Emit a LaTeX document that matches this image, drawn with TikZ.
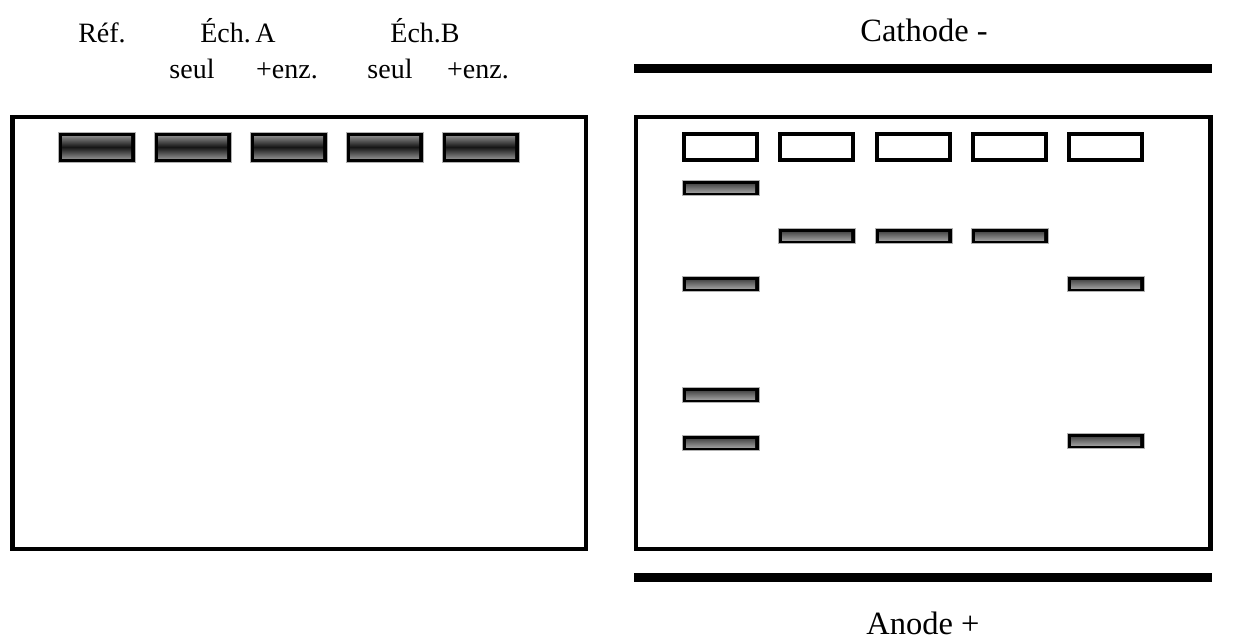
\documentclass[tikz,border=0pt]{standalone}
\usepackage{fontspec}
\setmainfont{Liberation Serif}
\begin{document}
\begin{tikzpicture}[x=1pt,y=-1pt,
  panel/.style={draw=black,line width=4.5pt},
  wellbox/.style={draw=black,line width=4pt,fill=white},
  electrode/.style={fill=black},
  lbl/.style={anchor=base,inner sep=0pt,font=\fontsize{28}{32}\selectfont},
  big/.style={anchor=base,inner sep=0pt,font=\fontsize{32.5}{38}\selectfont},
  thickin/.style={top color=gray!95!white,bottom color=gray!95!white,middle color=black!92},
  thinin/.style={top color=black!70,bottom color=black!40},
]
\useasboundingbox (0,0) rectangle (1255,641);
\newcommand{\thickband}[2]{%
  \fill[black] (#1,#2) rectangle ++(77,30);
  \draw[gray!60,line width=0.6pt] (#1,#2) rectangle ++(77,30);
  \shade[thickin] (#1+4,#2+4) rectangle ++(69,22);
}
\newcommand{\thinband}[2]{%
  \fill[black] (#1,#2) rectangle ++(77,15);
  \draw[gray!60,line width=0.6pt] (#1,#2) rectangle ++(77,15);
  \shade[thinin] (#1+4,#2+4) rectangle ++(69,8);
}
\newcommand{\wellrect}[2]{%
  \draw[wellbox] (#1+2,#2+2) rectangle ++(73,26);
}
% panels
\draw[panel] (12.5,117) rectangle (586,549);
\draw[panel] (636,117) rectangle (1210.5,549);
% electrodes
\fill[electrode] (634,64) rectangle (1212,73);
\fill[electrode] (634,573) rectangle (1212,582);
% labels
\node[lbl] (ref) at (102,42) {Réf.};
\node[lbl] (echa) at (238,42) {Éch.\,A};
\node[lbl] (echb) at (425,42) {Éch.B};
\node[lbl] (s1) at (192,78) {seul};
\node[lbl] (e1) at (287,78) {+enz.};
\node[lbl] (s2) at (390,78) {seul};
\node[lbl] (e2) at (478,78) {+enz.};
\node[big] (cath) at (924,41) {Cathode -};
\node[big] (anod) at (923,634) {Anode +};
% left panel loaded wells
\thickband{58}{132}
\thickband{154}{132}
\thickband{250}{132}
\thickband{346}{132}
\thickband{442}{132}
% right panel wells
\wellrect{682}{132}
\wellrect{778}{132}
\wellrect{875}{132}
\wellrect{971}{132}
\wellrect{1067}{132}
% right panel bands
\thinband{682}{180}
\thinband{682}{276}
\thinband{682}{387}
\thinband{682}{435}
\thinband{778}{228}
\thinband{875}{228}
\thinband{971}{228}
\thinband{1067}{276}
\thinband{1067}{433}
\end{tikzpicture}
\end{document}
